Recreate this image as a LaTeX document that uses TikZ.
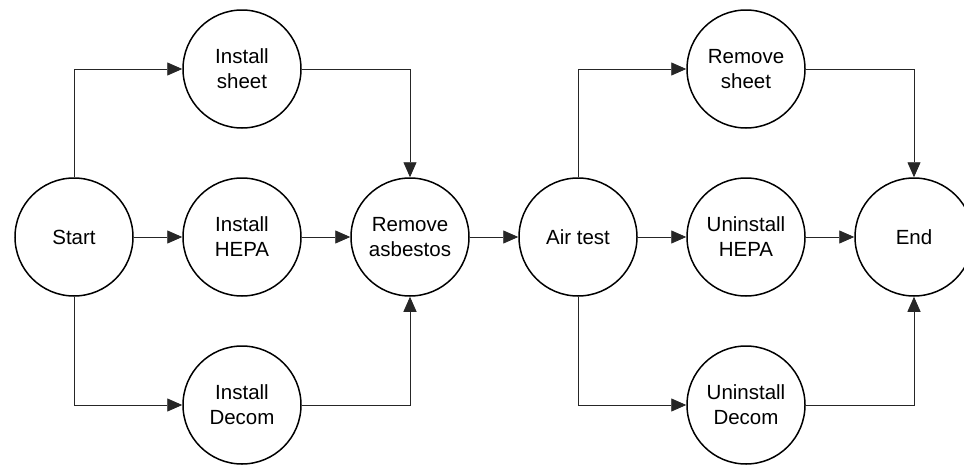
\documentclass[tikz,border=0pt]{standalone}
\usepackage{fontspec}
\setmainfont{Liberation Sans}
\usetikzlibrary{arrows.meta}
\begin{document}
\begin{tikzpicture}[x=1pt,y=-1pt,
  state/.style={circle, draw, line width=1.5pt, minimum size=118pt, inner sep=0pt,
    align=center, font=\fontsize{20.5}{25}\selectfont},
  flow/.style={line width=0.9pt, draw=black!85,
    -{Triangle[length=15pt,width=13pt]}}]
\useasboundingbox (0,0) rectangle (964,466);

% preparation stage
\node[state] (start)  at (74,237)  {Start};
\node[state] (sheet)  at (242,69)  {Install\\sheet};
\node[state] (hepa)   at (242,237) {Install\\HEPA};
\node[state] (decom)  at (242,405) {Install\\Decom};
\node[state] (remove) at (410,237) {Remove\\asbestos};

% clean-up stage
\node[state] (air)    at (578,237) {Air test};
\node[state] (rsheet) at (746,69)  {Remove\\sheet};
\node[state] (uhepa)  at (746,237) {Uninstall\\HEPA};
\node[state] (udecom) at (746,405) {Uninstall\\Decom};
\node[state] (end)    at (914,237) {End};

\draw[flow] (start.north) |- (sheet.west);
\draw[flow] (start) -- (hepa);
\draw[flow] (start.south) |- (decom.west);
\draw[flow] (sheet.east) -| (remove.north);
\draw[flow] (hepa) -- (remove);
\draw[flow] (decom.east) -| (remove.south);
\draw[flow] (remove) -- (air);

\draw[flow] (air.north) |- (rsheet.west);
\draw[flow] (air) -- (uhepa);
\draw[flow] (air.south) |- (udecom.west);
\draw[flow] (rsheet.east) -| (end.north);
\draw[flow] (uhepa) -- (end);
\draw[flow] (udecom.east) -| (end.south);
\end{tikzpicture}
\end{document}
